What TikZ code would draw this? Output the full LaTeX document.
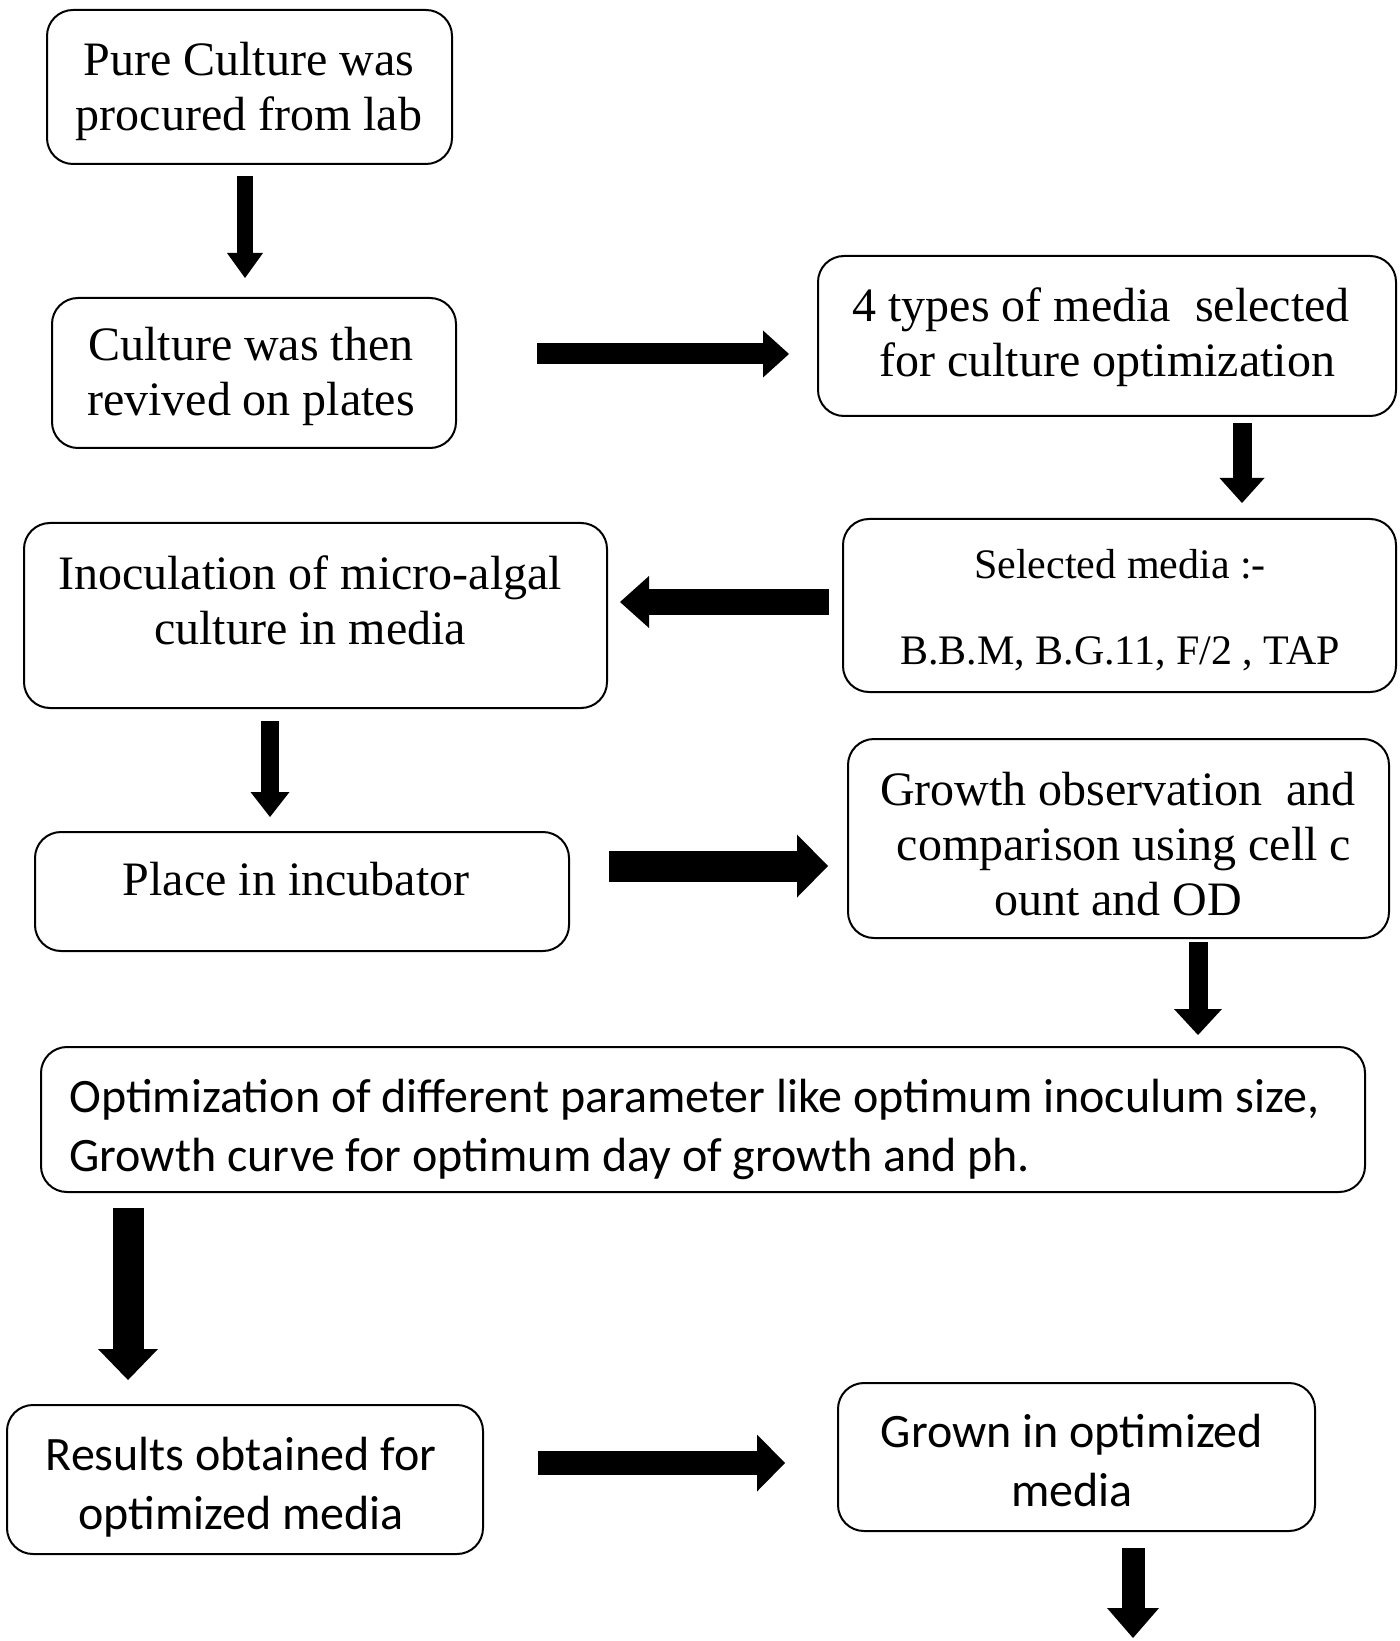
\documentclass[tikz,border=0pt]{standalone}
\usepackage{fontspec}
\setmainfont{Liberation Serif}
\newfontfamily\calfont{Carlito}
\usetikzlibrary{arrows.meta}
\begin{document}
\begin{tikzpicture}[x=0.5pt,y=-0.5pt,
  box/.style={draw=black, line width=1pt, rounded corners=13pt, inner sep=0pt},
  txt/.style={align=center, inner sep=0pt, font=\fontsize{24pt}{27.5pt}\selectfont},
  ctxt/.style={inner sep=0pt, font=\calfont\fontsize{24pt}{29.5pt}\selectfont},
  arw/.style n args={3}{draw=black, line width=#1,
     arrows={-Triangle[width=#2,length=#3,line width=0pt]}}]
\useasboundingbox[fill=white] (0,0) rectangle (1399,1641);

% boxes
\node[box, minimum width=202.5pt, minimum height=77pt] (box1) at (249.5,87) {};
\node[box, minimum width=202pt, minimum height=75pt] (box2) at (254,373) {};
\node[box, minimum width=289pt, minimum height=80pt] (box3) at (1107,336) {};
\node[box, minimum width=276.5pt, minimum height=86.5pt] (box4) at (1119.5,605.5) {};
\node[box, minimum width=291.5pt, minimum height=92.5pt] (box5) at (315.5,615.5) {};
\node[box, minimum width=267pt, minimum height=59.5pt] (box6) at (302,891.5) {};
\node[box, minimum width=270.5pt, minimum height=99.5pt] (box7) at (1118.5,838.5) {};
\node[box, minimum width=662pt, minimum height=72.5pt] (box8) at (703,1119.5) {};
\node[box, minimum width=238pt, minimum height=74.5pt] (box9) at (245,1479.5) {};
\node[box, minimum width=238.5pt, minimum height=74pt] (box10) at (1076.5,1457) {};

% texts
\node[txt] (t1) at (249,91.5) {Pure Culture was\\procured from lab};
\node[txt] (t2) at (251,376) {Culture was then\\revived on plates};
\node[txt] (t3) at (1101,337) {4 types of media\ \ selected\\\ for culture optimization};
\node[txt, font=\fontsize{21pt}{43pt}\selectfont] (t4) at (1120,610) {Selected media :-\\B.B.M, B.G.11, F/2 , TAP};
\node[txt] (t5) at (310,600) {Inoculation of micro-algal\\culture in media};
\node[txt] (t6) at (296,879) {Place in incubator};
\node[txt] (t7) at (1118,844) {Growth observation\ \ and\\\ comparison using cell c\\ount and OD};
\node[ctxt, align=left, anchor=west] (t8) at (69,1129) {Optimization of different parameter like optimum inoculum size,\\Growth curve for optimum day of growth and ph.};
\node[ctxt, align=center] (t9) at (241,1487.5) {Results obtained for\\optimized media};
\node[ctxt, align=center] (t10) at (1072,1460) {Grown in optimized\\media};

\coordinate (end10) at (1133,1638);

% arrows
\draw[arw={8pt}{18pt}{12.5pt}, shorten <=5.5pt, shorten >=9.5pt]
  (box1.south -| 245,0) -- (box2.north -| 245,0);
\draw[arw={10.5pt}{23.5pt}{13pt}, shorten <=40pt, shorten >=14pt]
  (box2.east |- 0,354) -- (box3.west |- 0,354);
\draw[arw={9.5pt}{22.5pt}{12.5pt}, shorten <=3pt, shorten >=7.5pt]
  (box3.south -| 1242,0) -- (box4.north -| 1242,0);
\draw[arw={13pt}{26pt}{14.5pt}, shorten <=6.5pt, shorten >=6pt]
  (box4.west |- 0,602) -- (box5.east |- 0,602);
\draw[arw={9pt}{19.5pt}{12.5pt}, shorten <=6pt, shorten >=7pt]
  (box5.south -| 270,0) -- (box6.north -| 270,0);
\draw[arw={15.5pt}{31.5pt}{15.5pt}, shorten <=19.5pt, shorten >=9.5pt]
  (box6.east |- 0,866) -- (box7.west |- 0,866);
\draw[arw={9.5pt}{24pt}{13pt}, shorten <=1.5pt, shorten >=5.5pt]
  (box7.south -| 1198,0) -- (box8.north -| 1198,0);
\draw[arw={15.5pt}{30pt}{15.5pt}, shorten <=7.5pt, shorten >=12pt]
  (box8.south -| 128,0) -- (box9.north -| 128,0);
\draw[arw={12pt}{28.5pt}{14pt}, shorten <=27pt, shorten >=26pt]
  (box9.east |- 0,1463) -- (box10.west |- 0,1463);
\draw[arw={11.5pt}{26pt}{15pt}, shorten <=8pt]
  (box10.south -| end10) -- (end10);
\end{tikzpicture}
\end{document}
